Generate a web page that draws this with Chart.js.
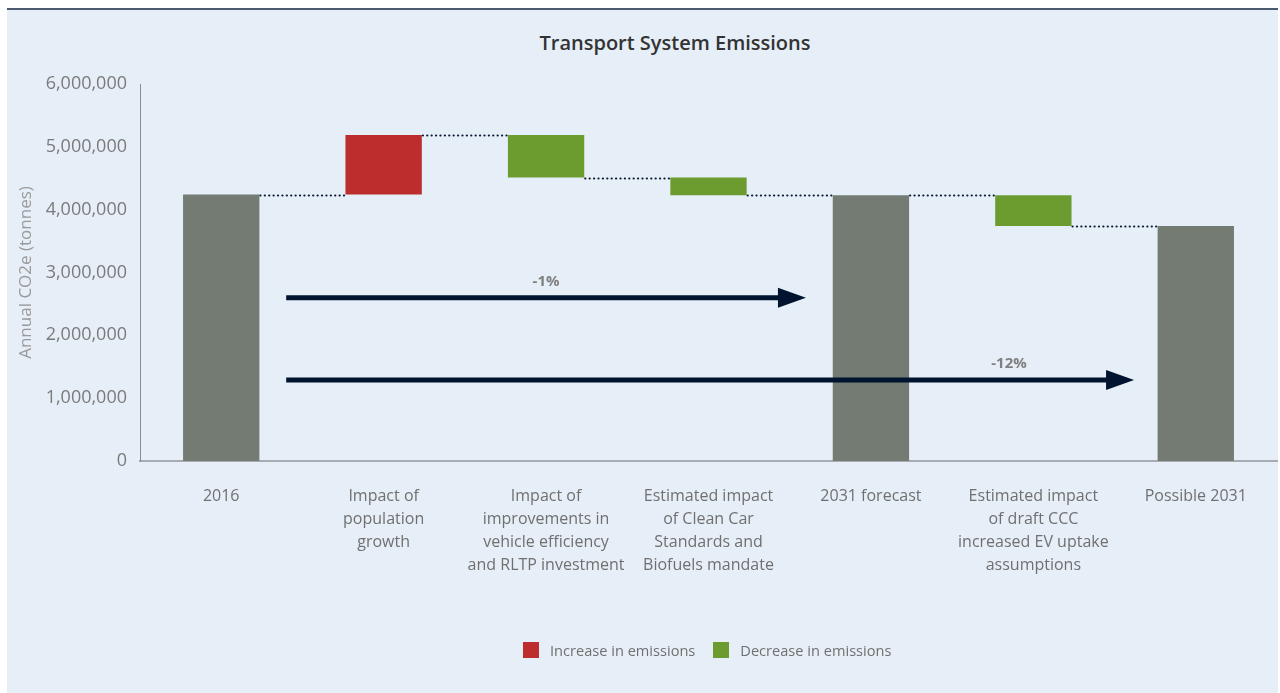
<!DOCTYPE html>
<html lang="en">
<head>
    <meta charset="UTF-8">
    <title>Transport System Emissions</title>
    <script src="https://cdn.jsdelivr.net/npm/chart.js"></script>
    <style>
        body {
            margin: 0;
            padding: 0;
            background: #ffffff;
            font-family: "Open Sans", Arial, sans-serif;
        }
        #panel {
            position: absolute;
            left: 7px;
            top: 8px;
            width: 1271px;
            height: 685px;
            background: #e6eef7;
            border-top: 2px solid #4b5a71;
        }
        #title {
            position: absolute;
            left: 0;
            width: 1350px;
            top: 29px;
            text-align: center;
            font-size: 20px;
            font-weight: 600;
            color: #333333;
        }
        #wrap {
            position: absolute;
            left: 0;
            top: 0;
            width: 1280px;
            height: 693px;
        }
        #legend {
            position: absolute;
            top: 640px;
            left: 523px;
            display: flex;
            align-items: center;
            font-size: 14.6px;
            color: #707070;
        }
        #legend span.box {
            display: inline-block;
            width: 16px;
            height: 16px;
            margin-right: 11px;
        }
        #legend span.item {
            display: inline-flex;
            align-items: center;
            margin-right: 18px;
        }
    </style>
</head>
<body>
    <div id="panel"></div>
    <div id="title">Transport System Emissions</div>
    <div id="wrap"><canvas id="waterfall" width="1280" height="693"></canvas></div>
    <div id="legend">
        <span class="item"><span class="box" style="background:#be2d2e"></span>Increase in emissions</span>
        <span class="item"><span class="box" style="background:#6c9c30"></span>Decrease in emissions</span>
    </div>

    <script>
        // カテゴリ(複数行ラベル)
        const categories = [
            ['2016'],
            ['Impact of', 'population', 'growth'],
            ['Impact of', 'improvements in', 'vehicle efficiency', 'and RLTP investment'],
            ['Estimated impact', 'of Clean Car', 'Standards and', 'Biofuels mandate'],
            ['2031 forecast'],
            ['Estimated impact', 'of draft CCC', 'increased EV uptake', 'assumptions'],
            ['Possible 2031']
        ];
        // 各ステップの種類と値 (tonnes)
        const stepKinds = ['total', 'increase', 'decrease', 'decrease', 'total', 'decrease', 'total'];
        const stepValues = [4240000, 950000, 680000, 280000, 4230000, 490000, 3740000];

        // 矢印の注記
        const arrowLabels = ['-1%', '-12%'];
        const arrowLevels = [2600000, 1290000];
        const arrowFrom = [0.4, 0.4];
        const arrowTo = [3.6, 5.62];
        const arrowLabelAt = [2, 4.85];

        const yTicks = [0, 1000000, 2000000, 3000000, 4000000, 5000000, 6000000];

        const colors = { total: '#737b73', increase: '#be2d2e', decrease: '#6c9c30' };

        // 浮動棒グラフ用の範囲を作る
        const ranges = [];
        const levels = [];
        let running = 0;
        stepKinds.forEach((kind, i) => {
            const v = stepValues[i];
            if (kind === 'total') {
                ranges.push([0, v]);
                running = v;
            } else if (kind === 'increase') {
                ranges.push([running, running + v]);
                running += v;
            } else {
                ranges.push([running - v, running]);
                running -= v;
            }
            levels.push(running);
        });

        // 点線のコネクタと矢印を描くプラグイン
        const waterfallExtras = {
            id: 'waterfallExtras',
            afterDatasetsDraw(chart) {
                const ctx = chart.ctx;
                const x = chart.scales.x;
                const y = chart.scales.y;
                const bars = chart.getDatasetMeta(0).data;

                ctx.save();
                ctx.strokeStyle = '#0b1a33';
                ctx.lineWidth = 2.2;
                ctx.lineCap = 'round';
                ctx.setLineDash([0.1, 4.3]);
                for (let i = 0; i < bars.length - 1; i++) {
                    const yy = Math.round(y.getPixelForValue(levels[i])) + 0.5;
                    ctx.beginPath();
                    ctx.moveTo(bars[i].x + bars[i].width / 2 + 1, yy);
                    ctx.lineTo(bars[i + 1].x - bars[i + 1].width / 2, yy);
                    ctx.stroke();
                }
                ctx.restore();

                ctx.save();
                ctx.fillStyle = '#00132f';
                ctx.strokeStyle = '#00132f';
                ctx.lineWidth = 5;
                arrowLabels.forEach((label, i) => {
                    const x0 = x.getPixelForValue(arrowFrom[i]);
                    const x1 = x.getPixelForValue(arrowTo[i]);
                    const yy = y.getPixelForValue(arrowLevels[i]);
                    ctx.beginPath();
                    ctx.moveTo(x0, yy);
                    ctx.lineTo(x1 - 26, yy);
                    ctx.stroke();
                    ctx.beginPath();
                    ctx.moveTo(x1 - 28, yy - 10);
                    ctx.lineTo(x1, yy);
                    ctx.lineTo(x1 - 28, yy + 10);
                    ctx.closePath();
                    ctx.fill();

                    ctx.fillStyle = '#808080';
                    ctx.font = 'bold 15px "Open Sans"';
                    ctx.textAlign = 'center';
                    ctx.textBaseline = 'middle';
                    ctx.fillText(label, x.getPixelForValue(arrowLabelAt[i]), yy - 16);
                    ctx.fillStyle = '#00132f';
                });
                ctx.restore();
            }
        };

        const ctx = document.getElementById('waterfall').getContext('2d');
        new Chart(ctx, {
            type: 'bar',
            data: {
                labels: categories,
                datasets: [{
                    data: ranges,
                    backgroundColor: stepKinds.map(k => colors[k]),
                    borderWidth: 0,
                    categoryPercentage: 1,
                    barPercentage: 0.47
                }]
            },
            options: {
                responsive: false,
                animation: false,
                layout: { padding: { top: 84, left: 12, right: 3, bottom: 92 } },
                plugins: {
                    legend: { display: false },
                    title: { display: false },
                    tooltip: { enabled: false }
                },
                scales: {
                    x: {
                        grid: { display: false, drawTicks: false },
                        border: { display: true, color: '#a8acb2', width: 2 },
                        ticks: {
                            color: '#707070',
                            padding: 24,
                            maxRotation: 0,
                            autoSkip: false,
                            font: { family: 'Open Sans', size: 16, lineHeight: 1.44 }
                        },
                        afterFit(scale) { scale.height = 140; }
                    },
                    y: {
                        min: 0,
                        max: 6000000,
                        afterBuildTicks(scale) { scale.ticks = yTicks.map(v => ({ value: v })); },
                        grid: { display: false, drawTicks: false },
                        border: { display: true, color: '#8c8c8c', width: 1 },
                        ticks: {
                            color: '#7b7b7b',
                            padding: 13,
                            font: { family: 'Open Sans', size: 18 },
                            callback: v => v.toLocaleString('en-US')
                        },
                        title: {
                            display: true,
                            text: 'Annual CO2e (tonnes)',
                            color: '#9a9a9a',
                            font: { family: 'Open Sans', size: 17 },
                            padding: { top: 4, bottom: 0 }
                        },
                        afterFit(scale) { scale.width = 128; }
                    }
                }
            },
            plugins: [waterfallExtras]
        });
    </script>
</body>
</html>
